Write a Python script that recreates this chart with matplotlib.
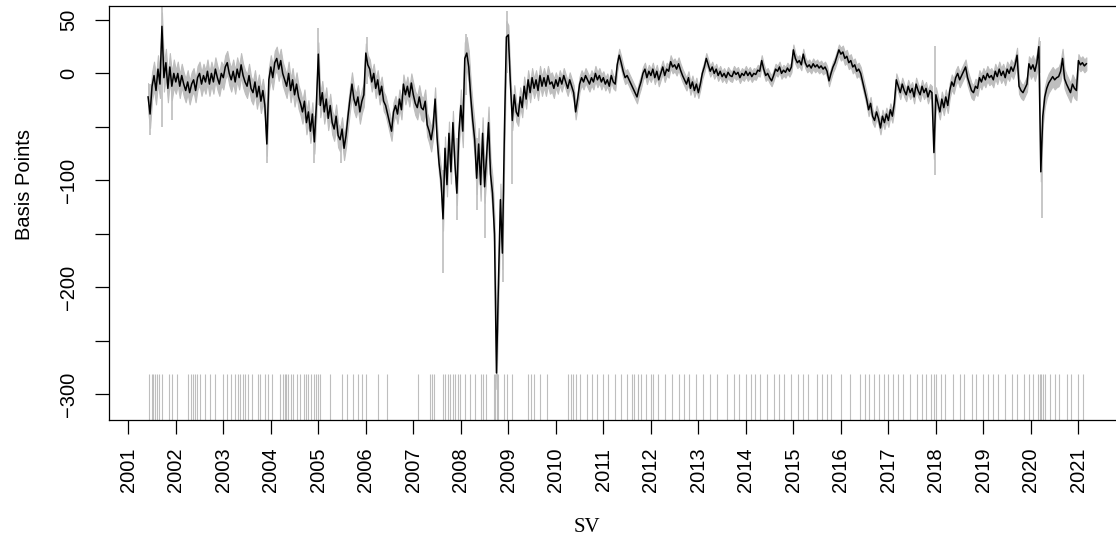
import numpy as np
import matplotlib
matplotlib.use("Agg")
import matplotlib.pyplot as plt

# Spread in basis points, read at half-month steps (24 per year).
# 2001 starts at step 10 (late May), 2021 stops at step 4 (early March).
sv_2001 = [-22, -38, -12, -2, -16, 4, -10, 44, -4, 10, -14, 6, -12, 0]
sv_2002 = [-8, 0, -12, -2, -10, -16, -8, -18, -10, -6, -16, -4, 0, -10, -2, -8, 2, -10, 0, -8, 4, -4, -10, 0]
sv_2003 = [-4, 6, 10, 0, -6, 2, -8, 4, -4, 8, -2, -8, -12, -2, -14, -18, -8, -22, -12, -26, -16, -30, -66, -6]
sv_2004 = [6, -4, 10, 14, 4, 12, 0, -6, -12, 0, -16, -6, -20, -10, -22, -28, -36, -26, -46, -36, -54, -38, -64, -30]
sv_2005 = [18, -30, -18, -36, -24, -42, -30, -46, -52, -40, -58, -62, -52, -70, -58, -40, -24, -10, -24, -30, -22, -36, -26, -20]
sv_2006 = [19, 8, 4, -8, 0, -14, -6, -20, -12, -26, -30, -38, -46, -54, -36, -30, -38, -24, -34, -10, -20, -12, -22, -9]
sv_2007 = [-20, -28, -32, -22, -32, -34, -26, -48, -54, -62, -50, -24, -60, -84, -100, -136, -70, -104, -56, -92, -46, -84, -112, -56]
sv_2008 = [-30, -54, 14, 19, 6, -22, -44, -62, -98, -66, -104, -56, -106, -78, -46, -94, -112, -150, -280, -196, -118, -168, -56, 34]
sv_2009 = [36, -8, -44, -20, -36, -40, -22, -32, -12, -24, -6, -18, -4, -14, -6, -16, -2, -12, -4, -12, -2, -10, -8, -14]
sv_2010 = [-6, -12, -4, -10, -2, -8, -14, -6, -12, -18, -36, -24, -10, -4, -8, -2, -6, -10, -4, -8, 0, -6, -2, -8]
sv_2011 = [-4, -10, -6, -12, -2, -8, -10, 8, 17, 10, 2, -4, -2, -6, -10, -14, -18, -22, -14, -8, 0, 4, -4, 2]
sv_2012 = [-2, 4, -4, 2, -6, 0, 6, -2, 4, 2, 11, 6, 8, 4, 9, 3, -2, -6, -10, -4, -14, -8, -16, -10]
sv_2013 = [-18, -10, 0, 6, 14, 8, 2, 6, 0, 4, -2, 2, -3, 0, -4, 1, -2, -3, 2, -1, 1, -4, 0, -2]
sv_2014 = [2, -2, 1, -3, 0, -1, 3, 2, 12, 4, -2, 0, -4, -7, -2, 4, 2, 6, 0, 3, 1, 5, 2, 6]
sv_2015 = [22, 14, 10, 12, 8, 18, 10, 6, 8, 5, 9, 6, 8, 5, 7, 4, 6, 2, -7, 0, 6, 10, 16, 22]
sv_2016 = [18, 20, 14, 16, 10, 12, 6, 8, 2, 4, 0, -8, -16, -24, -34, -28, -40, -44, -36, -42, -51, -40, -46, -38]
sv_2017 = [-44, -34, -40, -28, -6, -12, -18, -10, -16, -20, -12, -18, -14, -22, -10, -16, -20, -12, -18, -14, -22, -16, -18, -74]
sv_2018 = [-20, -28, -36, -24, -32, -22, -30, -16, -8, -12, -4, 0, -6, -2, 2, 6, -4, -10, -16, -18, -12, -14, -4, -8]
sv_2019 = [-2, -6, 0, -4, -2, -6, 2, -3, 4, -2, 2, -4, 4, 0, 6, 2, 8, 17, -12, -16, -18, -14, -10, 9]
sv_2020 = [4, 8, 2, 10, 25, -92, -40, -22, -14, -9, -6, -3, -6, -4, -3, 2, 14, -5, -10, -14, -18, -10, -14, -16]
sv_2021 = [12, 8, 10, 7, 9]

years = list(range(2001, 2022))
first_step_2001 = 10

# half-width of the grey band, one value per year
band_halfwidth = [13, 11, 11, 11, 11, 9, 11, 15, 9, 7, 6, 6, 5, 5, 5, 6, 6, 7, 7, 9, 6]

# grey excursions beyond the band
spike_dates = [2001.45, 2001.70, 2001.92, 2003.91, 2004.90, 2005.00, 2005.47, 2006.02,
               2007.63, 2007.91, 2008.10, 2008.33, 2008.51, 2008.89, 2008.97, 2009.07,
               2017.98, 2020.19, 2020.23]
spike_low = [-58, -50, -44, -84, -84, -30, -84, -10,
             -187, -137, -20, -128, -154, -195, 0, -103,
             -95, 0, -135]
spike_high = [-10, 63, 0, -40, -40, 42, -50, 34,
              -90, -60, 37, -60, -80, -140, 58, -30,
              26, 30, -60]

# event dates shown as grey rug lines at the bottom
event_dates = [
    2001.44, 2001.49, 2001.53, 2001.56, 2001.60, 2001.65, 2001.70, 2001.86, 2001.91,
    2002.03, 2002.26, 2002.33, 2002.37, 2002.40, 2002.44, 2002.51, 2002.62, 2002.72, 2002.83,
    2003.00, 2003.07, 2003.16, 2003.25, 2003.30, 2003.35, 2003.41, 2003.46, 2003.51, 2003.60,
    2003.74, 2003.77, 2003.88, 2003.95, 2004.02, 2004.19, 2004.25, 2004.30, 2004.33, 2004.37,
    2004.42, 2004.47, 2004.55, 2004.62, 2004.69, 2004.74, 2004.79, 2004.84, 2004.90, 2004.95,
    2005.00, 2005.04, 2005.25, 2005.49, 2005.60, 2005.74, 2005.84, 2005.91, 2006.00, 2006.26,
    2006.45, 2007.09, 2007.35, 2007.39, 2007.44, 2007.62, 2007.67, 2007.72, 2007.77, 2007.83,
    2007.88, 2007.93, 2007.98, 2008.09, 2008.19, 2008.30, 2008.42, 2008.47, 2008.53, 2008.69,
    2008.72, 2008.76, 2008.79, 2008.90, 2008.97, 2009.07, 2009.42, 2009.47, 2009.53, 2009.67,
    2009.81, 2010.26, 2010.31, 2010.37, 2010.43, 2010.51, 2010.66, 2010.76, 2010.86,
    2011.00, 2011.10, 2011.25, 2011.38, 2011.50, 2011.60, 2011.65, 2011.72, 2011.80, 2011.90,
    2012.00, 2012.05, 2012.15, 2012.30, 2012.45, 2012.60, 2012.70, 2012.80, 2012.95,
    2013.10, 2013.25, 2013.40, 2013.60, 2013.75, 2013.85, 2014.00, 2014.10, 2014.20, 2014.30,
    2014.45, 2014.60, 2014.70, 2014.80, 2014.95, 2015.10, 2015.20, 2015.30, 2015.50, 2015.60,
    2015.70, 2015.80, 2016.00, 2016.20, 2016.40, 2016.50, 2016.60, 2016.70, 2016.80, 2016.90,
    2017.00, 2017.10, 2017.20, 2017.30, 2017.45, 2017.60, 2017.70, 2017.80, 2017.90, 2017.95,
    2018.00, 2018.10, 2018.20, 2018.35, 2018.50, 2018.60, 2018.75, 2018.85, 2019.00, 2019.10,
    2019.20, 2019.30, 2019.45, 2019.60, 2019.70, 2019.85, 2019.95, 2020.05, 2020.15, 2020.20,
    2020.22, 2020.25, 2020.30, 2020.40, 2020.50, 2020.60, 2020.75, 2020.85, 2021.00, 2021.10,
]

y_ticks = [-300, -250, -200, -150, -100, -50, 0, 50]
y_labelled = [-300, -200, -100, 0, 50]

GREY = "#BEBEBE"


def build_series():
    yearly = [sv_2001, sv_2002, sv_2003, sv_2004, sv_2005, sv_2006, sv_2007,
              sv_2008, sv_2009, sv_2010, sv_2011, sv_2012, sv_2013, sv_2014,
              sv_2015, sv_2016, sv_2017, sv_2018, sv_2019, sv_2020, sv_2021]
    t, v, hw = [], [], []
    for year, vals, w in zip(years, yearly, band_halfwidth):
        start = first_step_2001 if year == 2001 else 0
        t.extend(year + (start + np.arange(len(vals))) / 24.0)
        v.extend(vals)
        hw.extend([w] * len(vals))
    return np.array(t), np.array(v, dtype=float), np.array(hw, dtype=float)


def tick_text(y):
    if y not in y_labelled:
        return ""
    return "\u2212%d" % -y if y < 0 else str(y)


def main():
    plt.rcParams["font.family"] = ["Liberation Sans", "DejaVu Sans"]
    fig = plt.figure(figsize=(11.16, 5.44), dpi=100)
    # right edge of the plot box lies just outside the picture
    ax = fig.add_axes([109 / 1116, 124 / 544, 1015.5 / 1116, 414 / 544])

    t, v, hw = build_series()
    ylim = (-324, 63)

    ax.fill_between(t, v - hw, v + hw, color=GREY, lw=0.8, edgecolor=GREY)
    ax.vlines(spike_dates, spike_low, spike_high, color=GREY, lw=1.2)
    ax.vlines(event_dates, ylim[0], -281, color=GREY, lw=0.8)
    ax.plot(t, v, color="black", lw=1.1)

    ax.set_xlim(2000.594, 2021.97)
    ax.set_ylim(*ylim)

    ax.set_xticks(years)
    ax.set_xticklabels([str(y) for y in years], rotation=90, va="top")
    ax.set_yticks(y_ticks)
    ax.set_yticklabels([tick_text(y) for y in y_ticks], rotation=90, va="center")

    ax.tick_params(axis="both", direction="out", length=10, width=0.9, labelsize=14.5)
    ax.tick_params(axis="x", pad=10)
    ax.tick_params(axis="y", pad=12)
    for side in ["left", "bottom", "top"]:
        ax.spines[side].set_linewidth(0.9)
    ax.spines["right"].set_visible(False)

    fig.text(25 / 1116, 1 - 185 / 544, "Basis Points", rotation=90,
             ha="center", va="center", fontsize=14.5)
    fig.text(587 / 1116, 1 - 528 / 544, "SV", ha="center", va="center",
             fontsize=15, family=["Liberation Serif", "DejaVu Serif"])

    fig.savefig("out.png", dpi=100)
    plt.close(fig)


if __name__ == "__main__":
    main()
